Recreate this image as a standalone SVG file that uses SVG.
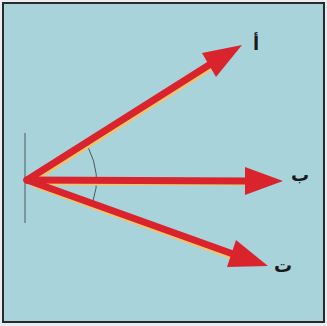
<svg xmlns="http://www.w3.org/2000/svg" width="327" height="326" viewBox="0 0 327 326">
<style>
.shaft{stroke:#d9242e;stroke-width:7;stroke-linecap:round;fill:none}
.glow{stroke:#f2c46a;stroke-width:3;fill:none}
.head{fill:#d9242e}
.lbl{font-family:"DejaVu Sans",sans-serif;font-weight:bold;font-size:18px;fill:#1a1a1a;text-anchor:middle}
</style>
<rect x="0" y="0" width="327" height="326" fill="#e8eef0"/>
<rect x="3" y="3" width="321" height="319" fill="#a9d3da" stroke="#2a2a2a" stroke-width="2"/>
<g id="mirror">
<line x1="25" y1="133" x2="25" y2="223" stroke="#4a5a5c" stroke-width="1"/>
</g>
<g id="angle">
<path d="M88,147 Q102,175 93,201" fill="none" stroke="#4a5a5c" stroke-width="1"/>
</g>
<g id="connectors">
<line class="glow" x1="31" y1="183" x2="211" y2="69"/>
<line class="glow" x1="31" y1="184" x2="246" y2="184"/>
<line class="glow" x1="31" y1="185" x2="232" y2="258"/>
<line class="shaft" x1="27" y1="180" x2="209" y2="65"/>
<line class="shaft" x1="27" y1="180" x2="247" y2="181"/>
<line class="shaft" x1="27" y1="180" x2="233" y2="254"/>
<polygon class="head" points="202,53 242,45 216,77"/>
<polygon class="head" points="245,167 283,181 245,195"/>
<polygon class="head" points="236,240 268,266 227,267"/>
</g>
<g id="label-a"><text class="lbl" x="256" y="50">أ</text></g>
<g id="label-b"><text class="lbl" x="300" y="181">ب</text></g>
<g id="label-c"><text class="lbl" x="283" y="272">ت</text></g>
</svg>
